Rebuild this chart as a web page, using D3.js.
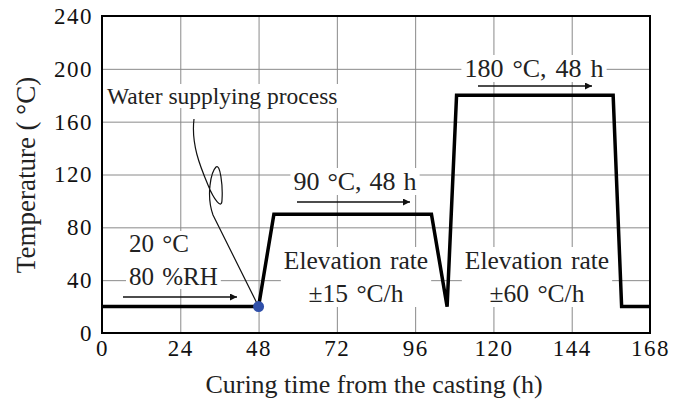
<!DOCTYPE html>
<html>
<head>
<meta charset="utf-8">
<script src="https://cdn.jsdelivr.net/npm/d3@7"></script>
<style>
  body { margin: 0; background: #fff; }
  svg { display: block; font-family: "Liberation Serif", "Times New Roman", serif; }
</style>
</head>
<body>
<div id="chart"></div>
<script>
// Curing schedule (time in hours, temperature in °C)
var timeH = [0, 48, 52.7, 101, 105.8, 108.7, 156.7, 159.3, 168];
var tempC = [20, 20, 90, 90, 20, 180, 180, 20, 20];

// Water supply point
var waterPoint = [48, 20];

// Ticks
var xTicks = [0, 24, 48, 72, 96, 120, 144, 168];
var yTicks = [0, 40, 80, 120, 160, 200, 240];

var svgWidth = 684;
var svgHeight = 401;
var serif = "Liberation Serif";

var margin = { top: 16, right: 34, bottom: 68, left: 102 };
var width = svgWidth - margin.left - margin.right;
var height = svgHeight - margin.top - margin.bottom;

var svg = d3.select("#chart")
  .append("svg")
  .attr("width", svgWidth)
  .attr("height", svgHeight)
  .attr("font-family", serif);

var chartGroup = svg.append("g")
  .attr("transform", `translate(${margin.left}, ${margin.top})`);

var x = d3.scaleLinear().domain([0, 168]).range([0, width]);
var y = d3.scaleLinear().domain([0, 240]).range([height, 0]);

// gridlines
chartGroup.append("g")
  .attr("transform", `translate(0, ${height})`)
  .call(d3.axisBottom(x).tickValues(xTicks).tickSize(-height).tickFormat(""))
  .call(g => g.select(".domain").remove())
  .selectAll("line").attr("stroke", "#8a8a8a").attr("stroke-width", 1);

chartGroup.append("g")
  .call(d3.axisLeft(y).tickValues(yTicks).tickSize(-width).tickFormat(""))
  .call(g => g.select(".domain").remove())
  .selectAll("line").attr("stroke", "#8a8a8a").attr("stroke-width", 1);

// tick labels
var xAxis = chartGroup.append("g")
  .attr("transform", `translate(0, ${height})`)
  .call(d3.axisBottom(x).tickValues(xTicks).tickSize(0).tickPadding(7));
xAxis.select(".domain").remove();

var yAxis = chartGroup.append("g")
  .call(d3.axisLeft(y).tickValues(yTicks).tickSize(0).tickPadding(9));
yAxis.select(".domain").remove();

[xAxis, yAxis].forEach(function(ax) {
  ax.attr("font-family", serif).attr("font-size", 23);
  ax.selectAll("text")
    .attr("font-family", serif)
    .attr("font-size", 23)
    .attr("letter-spacing", 1.5)
    .attr("fill", "#111");
});

// annotation layer (white boxes behind text break the grid)
var notes = chartGroup.append("g");

function addText(lines, xPos, yPos, anchor, size, wordGap) {
  var g = notes.append("g");
  var t = g.append("text")
    .attr("text-anchor", anchor)
    .attr("font-size", size)
    .attr("word-spacing", wordGap || 0)
    .attr("fill", "#222");
  lines.forEach(function(s, i) {
    t.append("tspan").attr("x", xPos).attr("y", yPos + i * 33).text(s);
  });
  var b = t.node().getBBox();
  g.insert("rect", "text")
    .attr("x", b.x - 3).attr("y", b.y + 1)
    .attr("width", b.width + 6).attr("height", b.height - 2)
    .attr("fill", "#fff");
  return g;
}

svg.append("defs").append("marker")
  .attr("id", "arrow")
  .attr("viewBox", "0 0 10 10")
  .attr("refX", 10).attr("refY", 5)
  .attr("markerWidth", 9).attr("markerHeight", 7)
  .attr("markerUnits", "userSpaceOnUse")
  .attr("orient", "auto")
  .append("path").attr("d", "M0,0 L10,5 L0,10 z").attr("fill", "#111");

function addArrow(x1, x2, yy) {
  notes.append("line")
    .attr("x1", x1).attr("x2", x2)
    .attr("y1", yy).attr("y2", yy)
    .attr("stroke", "#111").attr("stroke-width", 1.5)
    .attr("marker-end", "url(#arrow)");
}

addText(["Water supplying process"], 5, 88, "start", 23.5);
addText(["20 °C", "80 %RH"], 27, 236, "start", 25, 2);
addText(["90 °C, 48 h"], 253, 174, "middle", 26, 1.5);
addText(["180 °C, 48 h"], 432, 61, "middle", 26, 2.5);
addText(["Elevation rate", "±15 °C/h"], 254, 253, "middle", 25.5, 2);
addText(["Elevation rate", "±60 °C/h"], 435, 253, "middle", 25.5, 2);

addArrow(21, 135, 281);
addArrow(195, 308, 186);
addArrow(376, 490, 70);

// leader line from label to the water point
var px = x(waterPoint[0]), py = y(waterPoint[1]);
notes.append("path")
  .attr("d", `M92,103 C89,128 98,150 106,169 C112,184 120,194 120,184 C121,169 118,147 114,151 C109,156 104,179 111,199 L${px},${py}`)
  .attr("fill", "none")
  .attr("stroke", "#111")
  .attr("stroke-width", 1.2);

// schedule line
var line = d3.line().x(function(d, i) { return x(timeH[i]); }).y(function(d) { return y(d); });
chartGroup.append("path")
  .datum(tempC)
  .attr("d", line)
  .attr("fill", "none")
  .attr("stroke", "#000")
  .attr("stroke-width", 3.5)
  .attr("stroke-linejoin", "miter");

chartGroup.append("circle")
  .attr("cx", px).attr("cy", py)
  .attr("r", 5.5)
  .attr("fill", "#2f4fa9");

// frame
chartGroup.append("rect")
  .attr("width", width).attr("height", height)
  .attr("fill", "none")
  .attr("stroke", "#000")
  .attr("stroke-width", 2);

// axis titles
svg.append("text")
  .attr("x", margin.left + width / 2 - 2)
  .attr("y", 393)
  .attr("text-anchor", "middle")
  .attr("font-size", 26)
  .attr("fill", "#222")
  .text("Curing time from the casting (h)");

svg.append("text")
  .attr("transform", "rotate(-90)")
  .attr("x", -175)
  .attr("y", 35)
  .attr("text-anchor", "middle")
  .attr("font-size", 27)
  .attr("fill", "#222")
  .text("Temperature ( °C)");
</script>
</body>
</html>
